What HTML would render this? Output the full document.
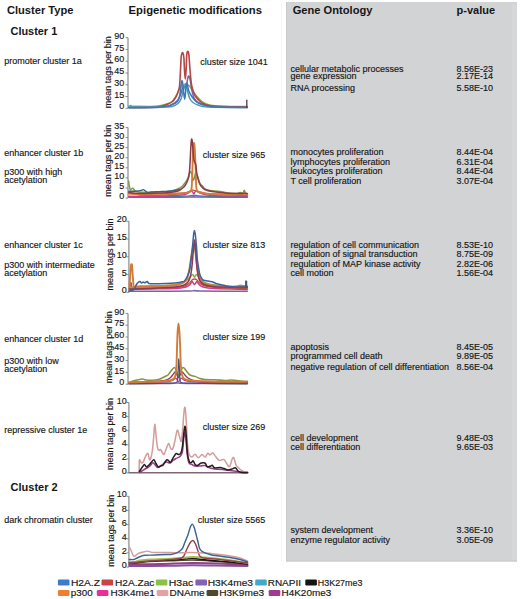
<!DOCTYPE html>
<html><head><meta charset="utf-8"><style>
html,body{margin:0;padding:0;background:#fff;width:520px;height:599px;overflow:hidden}
svg{display:block;font-family:"Liberation Sans",sans-serif}
</style></head><body>
<svg width="520" height="599" viewBox="0 0 520 599" font-family="Liberation Sans, sans-serif"><rect x="0" y="0" width="520" height="599" fill="#ffffff"/>
<rect x="286" y="2" width="231" height="559.5" fill="#d2d3d5"/>
<rect x="512" y="4" width="4.5" height="556" fill="#d6d7d9"/>
<line x1="281.5" y1="2" x2="281.5" y2="561" stroke="#f6f6f6" stroke-width="1"/>
<line x1="286.5" y1="2" x2="286.5" y2="561.5" stroke="#c9cacc" stroke-width="1"/>
<line x1="286" y1="561" x2="517" y2="561" stroke="#c9cacc" stroke-width="1"/>
<text x="6.9" y="13.5" font-size="11.00" font-weight="bold" textLength="66.6" lengthAdjust="spacingAndGlyphs" fill="#161616">Cluster Type</text>
<text x="128.6" y="13.5" font-size="11.20" font-weight="bold" textLength="133.4" lengthAdjust="spacingAndGlyphs" fill="#161616">Epigenetic modifications</text>
<text x="292.7" y="13.5" font-size="11.00" font-weight="bold" textLength="79.8" lengthAdjust="spacingAndGlyphs" fill="#161616">Gene Ontology</text>
<text x="456.6" y="13.5" font-size="11.00" font-weight="bold" textLength="38.4" lengthAdjust="spacingAndGlyphs" fill="#161616">p-value</text>
<text x="10.5" y="34.6" font-size="11.00" font-weight="bold" textLength="46.7" lengthAdjust="spacingAndGlyphs" fill="#161616">Cluster 1</text>
<text x="10.6" y="491.0" font-size="11.00" font-weight="bold" textLength="47.1" lengthAdjust="spacingAndGlyphs" fill="#161616">Cluster 2</text>
<text x="4.2" y="64.4" font-size="9.00" fill="#161616" stroke="#161616" stroke-width="0.15">promoter cluster 1a</text>
<text x="4.2" y="155.8" font-size="9.00" fill="#161616" stroke="#161616" stroke-width="0.15">enhancer cluster 1b</text>
<text x="4.2" y="175.2" font-size="9.00" fill="#161616" stroke="#161616" stroke-width="0.15">p300 with high</text>
<text x="4.2" y="183.3" font-size="9.00" fill="#161616" stroke="#161616" stroke-width="0.15">acetylation</text>
<text x="4.2" y="248.3" font-size="9.00" fill="#161616" stroke="#161616" stroke-width="0.15">enhancer cluster 1c</text>
<text x="4.2" y="267.5" font-size="9.00" fill="#161616" stroke="#161616" stroke-width="0.15">p300 with intermediate</text>
<text x="4.2" y="275.8" font-size="9.00" fill="#161616" stroke="#161616" stroke-width="0.15">acetylation</text>
<text x="4.2" y="341.9" font-size="9.00" fill="#161616" stroke="#161616" stroke-width="0.15">enhancer cluster 1d</text>
<text x="4.2" y="363.5" font-size="9.00" fill="#161616" stroke="#161616" stroke-width="0.15">p300 with low</text>
<text x="4.2" y="371.7" font-size="9.00" fill="#161616" stroke="#161616" stroke-width="0.15">acetylation</text>
<text x="4.2" y="433.3" font-size="9.00" fill="#161616" stroke="#161616" stroke-width="0.15">repressive cluster 1e</text>
<text x="4.2" y="522.7" font-size="9.00" fill="#161616" stroke="#161616" stroke-width="0.15">dark chromatin cluster</text>
<text x="200.2" y="65.4" font-size="9.00" fill="#161616" stroke="#161616" stroke-width="0.15">cluster size 1041</text>
<text x="202.8" y="158.0" font-size="9.00" fill="#161616" stroke="#161616" stroke-width="0.15">cluster size 965</text>
<text x="202.8" y="248.0" font-size="9.00" fill="#161616" stroke="#161616" stroke-width="0.15">cluster size 813</text>
<text x="202.8" y="339.7" font-size="9.00" fill="#161616" stroke="#161616" stroke-width="0.15">cluster size 199</text>
<text x="202.8" y="429.7" font-size="9.00" fill="#161616" stroke="#161616" stroke-width="0.15">cluster size 269</text>
<text x="197.8" y="522.8" font-size="9.00" fill="#161616" stroke="#161616" stroke-width="0.15">cluster size 5565</text>
<text x="290.5" y="71.7" font-size="9.00" fill="#161616" stroke="#161616" stroke-width="0.15">cellular metabolic processes</text>
<text x="456.4" y="71.7" font-size="9.00" fill="#161616" stroke="#161616" stroke-width="0.15">8.56E-23</text>
<text x="290.5" y="79.3" font-size="9.00" fill="#161616" stroke="#161616" stroke-width="0.15">gene expression</text>
<text x="456.4" y="79.3" font-size="9.00" fill="#161616" stroke="#161616" stroke-width="0.15">2.17E-14</text>
<text x="290.5" y="91.1" font-size="9.00" fill="#161616" stroke="#161616" stroke-width="0.15">RNA processing</text>
<text x="456.4" y="91.1" font-size="9.00" fill="#161616" stroke="#161616" stroke-width="0.15">5.58E-10</text>
<text x="290.5" y="155.0" font-size="9.00" fill="#161616" stroke="#161616" stroke-width="0.15">monocytes proliferation</text>
<text x="456.4" y="155.0" font-size="9.00" fill="#161616" stroke="#161616" stroke-width="0.15">8.44E-04</text>
<text x="290.5" y="164.5" font-size="9.00" fill="#161616" stroke="#161616" stroke-width="0.15">lymphocytes proliferation</text>
<text x="456.4" y="164.5" font-size="9.00" fill="#161616" stroke="#161616" stroke-width="0.15">6.31E-04</text>
<text x="290.5" y="174.2" font-size="9.00" fill="#161616" stroke="#161616" stroke-width="0.15">leukocytes proliferation</text>
<text x="456.4" y="174.2" font-size="9.00" fill="#161616" stroke="#161616" stroke-width="0.15">8.44E-04</text>
<text x="290.5" y="184.4" font-size="9.00" fill="#161616" stroke="#161616" stroke-width="0.15">T cell proliferation</text>
<text x="456.4" y="184.4" font-size="9.00" fill="#161616" stroke="#161616" stroke-width="0.15">3.07E-04</text>
<text x="290.5" y="247.7" font-size="9.00" fill="#161616" stroke="#161616" stroke-width="0.15">regulation of cell communication</text>
<text x="456.4" y="247.7" font-size="9.00" fill="#161616" stroke="#161616" stroke-width="0.15">8.53E-10</text>
<text x="290.5" y="257.0" font-size="9.00" fill="#161616" stroke="#161616" stroke-width="0.15">regulation of signal transduction</text>
<text x="456.4" y="257.0" font-size="9.00" fill="#161616" stroke="#161616" stroke-width="0.15">8.75E-09</text>
<text x="290.5" y="267.0" font-size="9.00" fill="#161616" stroke="#161616" stroke-width="0.15">regulation of MAP kinase activity</text>
<text x="456.4" y="267.0" font-size="9.00" fill="#161616" stroke="#161616" stroke-width="0.15">2.82E-06</text>
<text x="290.5" y="276.0" font-size="9.00" fill="#161616" stroke="#161616" stroke-width="0.15">cell motion</text>
<text x="456.4" y="276.0" font-size="9.00" fill="#161616" stroke="#161616" stroke-width="0.15">1.56E-04</text>
<text x="290.5" y="350.0" font-size="9.00" fill="#161616" stroke="#161616" stroke-width="0.15">apoptosis</text>
<text x="456.4" y="350.0" font-size="9.00" fill="#161616" stroke="#161616" stroke-width="0.15">8.45E-05</text>
<text x="290.5" y="358.5" font-size="9.00" fill="#161616" stroke="#161616" stroke-width="0.15">programmed cell death</text>
<text x="456.4" y="358.5" font-size="9.00" fill="#161616" stroke="#161616" stroke-width="0.15">9.89E-05</text>
<text x="290.5" y="369.5" font-size="9.00" fill="#161616" stroke="#161616" stroke-width="0.15">negative regulation of cell differentiation</text>
<text x="456.4" y="369.5" font-size="9.00" fill="#161616" stroke="#161616" stroke-width="0.15">8.56E-04</text>
<text x="290.5" y="441.2" font-size="9.00" fill="#161616" stroke="#161616" stroke-width="0.15">cell development</text>
<text x="456.4" y="441.2" font-size="9.00" fill="#161616" stroke="#161616" stroke-width="0.15">9.48E-03</text>
<text x="290.5" y="450.2" font-size="9.00" fill="#161616" stroke="#161616" stroke-width="0.15">cell differentiation</text>
<text x="456.4" y="450.2" font-size="9.00" fill="#161616" stroke="#161616" stroke-width="0.15">9.65E-03</text>
<text x="290.5" y="532.8" font-size="9.00" fill="#161616" stroke="#161616" stroke-width="0.15">system development</text>
<text x="456.4" y="532.8" font-size="9.00" fill="#161616" stroke="#161616" stroke-width="0.15">3.36E-10</text>
<text x="290.5" y="542.6" font-size="9.00" fill="#161616" stroke="#161616" stroke-width="0.15">enzyme regulator activity</text>
<text x="456.4" y="542.6" font-size="9.00" fill="#161616" stroke="#161616" stroke-width="0.15">3.05E-09</text>
<line x1="128.0" y1="37.7" x2="128.0" y2="108.3" stroke="#8a8a8a" stroke-width="1.2"/>
<line x1="125.6" y1="108.30" x2="128.0" y2="108.30" stroke="#8a8a8a" stroke-width="1"/>
<text x="124.2" y="109.4" font-size="9.00" text-anchor="end" fill="#161616" stroke="#161616" stroke-width="0.15">0</text>
<line x1="125.6" y1="96.53" x2="128.0" y2="96.53" stroke="#8a8a8a" stroke-width="1"/>
<text x="124.2" y="97.6" font-size="9.00" text-anchor="end" fill="#161616" stroke="#161616" stroke-width="0.15">15</text>
<line x1="125.6" y1="84.77" x2="128.0" y2="84.77" stroke="#8a8a8a" stroke-width="1"/>
<text x="124.2" y="85.9" font-size="9.00" text-anchor="end" fill="#161616" stroke="#161616" stroke-width="0.15">30</text>
<line x1="125.6" y1="73.00" x2="128.0" y2="73.00" stroke="#8a8a8a" stroke-width="1"/>
<text x="124.2" y="74.1" font-size="9.00" text-anchor="end" fill="#161616" stroke="#161616" stroke-width="0.15">45</text>
<line x1="125.6" y1="61.23" x2="128.0" y2="61.23" stroke="#8a8a8a" stroke-width="1"/>
<text x="124.2" y="62.3" font-size="9.00" text-anchor="end" fill="#161616" stroke="#161616" stroke-width="0.15">60</text>
<line x1="125.6" y1="49.47" x2="128.0" y2="49.47" stroke="#8a8a8a" stroke-width="1"/>
<text x="124.2" y="50.6" font-size="9.00" text-anchor="end" fill="#161616" stroke="#161616" stroke-width="0.15">75</text>
<line x1="125.6" y1="37.70" x2="128.0" y2="37.70" stroke="#8a8a8a" stroke-width="1"/>
<text x="124.2" y="38.8" font-size="9.00" text-anchor="end" fill="#161616" stroke="#161616" stroke-width="0.15">90</text>
<text transform="translate(111.0 72.3) rotate(-90)" font-size="9" text-anchor="middle" fill="#161616" stroke="#161616" stroke-width="0.15">mean tags per bin</text>
<line x1="128.0" y1="127.4" x2="128.0" y2="198.1" stroke="#8a8a8a" stroke-width="1.2"/>
<line x1="125.6" y1="198.10" x2="128.0" y2="198.10" stroke="#8a8a8a" stroke-width="1"/>
<text x="124.2" y="199.2" font-size="9.00" text-anchor="end" fill="#161616" stroke="#161616" stroke-width="0.15">0</text>
<line x1="125.6" y1="188.00" x2="128.0" y2="188.00" stroke="#8a8a8a" stroke-width="1"/>
<text x="124.2" y="189.1" font-size="9.00" text-anchor="end" fill="#161616" stroke="#161616" stroke-width="0.15">5</text>
<line x1="125.6" y1="177.90" x2="128.0" y2="177.90" stroke="#8a8a8a" stroke-width="1"/>
<text x="124.2" y="179.0" font-size="9.00" text-anchor="end" fill="#161616" stroke="#161616" stroke-width="0.15">10</text>
<line x1="125.6" y1="167.80" x2="128.0" y2="167.80" stroke="#8a8a8a" stroke-width="1"/>
<text x="124.2" y="168.9" font-size="9.00" text-anchor="end" fill="#161616" stroke="#161616" stroke-width="0.15">15</text>
<line x1="125.6" y1="157.70" x2="128.0" y2="157.70" stroke="#8a8a8a" stroke-width="1"/>
<text x="124.2" y="158.8" font-size="9.00" text-anchor="end" fill="#161616" stroke="#161616" stroke-width="0.15">20</text>
<line x1="125.6" y1="147.60" x2="128.0" y2="147.60" stroke="#8a8a8a" stroke-width="1"/>
<text x="124.2" y="148.7" font-size="9.00" text-anchor="end" fill="#161616" stroke="#161616" stroke-width="0.15">25</text>
<line x1="125.6" y1="137.50" x2="128.0" y2="137.50" stroke="#8a8a8a" stroke-width="1"/>
<text x="124.2" y="138.6" font-size="9.00" text-anchor="end" fill="#161616" stroke="#161616" stroke-width="0.15">30</text>
<line x1="125.6" y1="127.40" x2="128.0" y2="127.40" stroke="#8a8a8a" stroke-width="1"/>
<text x="124.2" y="128.5" font-size="9.00" text-anchor="end" fill="#161616" stroke="#161616" stroke-width="0.15">35</text>
<text transform="translate(111.0 160.8) rotate(-90)" font-size="9" text-anchor="middle" fill="#161616" stroke="#161616" stroke-width="0.15">mean tags per bin</text>
<line x1="128.9" y1="221.3" x2="128.9" y2="292.3" stroke="#8a8a8a" stroke-width="1.2"/>
<line x1="126.5" y1="292.30" x2="128.9" y2="292.30" stroke="#8a8a8a" stroke-width="1"/>
<text x="126.7" y="293.4" font-size="9.00" text-anchor="end" fill="#161616" stroke="#161616" stroke-width="0.15">0</text>
<line x1="126.5" y1="274.55" x2="128.9" y2="274.55" stroke="#8a8a8a" stroke-width="1"/>
<text x="126.7" y="275.7" font-size="9.00" text-anchor="end" fill="#161616" stroke="#161616" stroke-width="0.15">5</text>
<line x1="126.5" y1="256.80" x2="128.9" y2="256.80" stroke="#8a8a8a" stroke-width="1"/>
<text x="126.7" y="257.9" font-size="9.00" text-anchor="end" fill="#161616" stroke="#161616" stroke-width="0.15">10</text>
<line x1="126.5" y1="239.05" x2="128.9" y2="239.05" stroke="#8a8a8a" stroke-width="1"/>
<text x="126.7" y="240.2" font-size="9.00" text-anchor="end" fill="#161616" stroke="#161616" stroke-width="0.15">15</text>
<line x1="126.5" y1="221.30" x2="128.9" y2="221.30" stroke="#8a8a8a" stroke-width="1"/>
<text x="126.7" y="222.4" font-size="9.00" text-anchor="end" fill="#161616" stroke="#161616" stroke-width="0.15">20</text>
<text transform="translate(112.6 254.4) rotate(-90)" font-size="9" text-anchor="middle" fill="#161616" stroke="#161616" stroke-width="0.15">mean tags per bin</text>
<line x1="128.0" y1="313.4" x2="128.0" y2="384.2" stroke="#8a8a8a" stroke-width="1.2"/>
<line x1="125.6" y1="384.20" x2="128.0" y2="384.20" stroke="#8a8a8a" stroke-width="1"/>
<text x="124.2" y="385.3" font-size="9.00" text-anchor="end" fill="#161616" stroke="#161616" stroke-width="0.15">0</text>
<line x1="125.6" y1="372.40" x2="128.0" y2="372.40" stroke="#8a8a8a" stroke-width="1"/>
<text x="124.2" y="373.5" font-size="9.00" text-anchor="end" fill="#161616" stroke="#161616" stroke-width="0.15">15</text>
<line x1="125.6" y1="360.60" x2="128.0" y2="360.60" stroke="#8a8a8a" stroke-width="1"/>
<text x="124.2" y="361.7" font-size="9.00" text-anchor="end" fill="#161616" stroke="#161616" stroke-width="0.15">30</text>
<line x1="125.6" y1="348.80" x2="128.0" y2="348.80" stroke="#8a8a8a" stroke-width="1"/>
<text x="124.2" y="349.9" font-size="9.00" text-anchor="end" fill="#161616" stroke="#161616" stroke-width="0.15">45</text>
<line x1="125.6" y1="337.00" x2="128.0" y2="337.00" stroke="#8a8a8a" stroke-width="1"/>
<text x="124.2" y="338.1" font-size="9.00" text-anchor="end" fill="#161616" stroke="#161616" stroke-width="0.15">60</text>
<line x1="125.6" y1="325.20" x2="128.0" y2="325.20" stroke="#8a8a8a" stroke-width="1"/>
<text x="124.2" y="326.3" font-size="9.00" text-anchor="end" fill="#161616" stroke="#161616" stroke-width="0.15">75</text>
<line x1="125.6" y1="313.40" x2="128.0" y2="313.40" stroke="#8a8a8a" stroke-width="1"/>
<text x="124.2" y="314.5" font-size="9.00" text-anchor="end" fill="#161616" stroke="#161616" stroke-width="0.15">90</text>
<text transform="translate(111.9 347.2) rotate(-90)" font-size="9" text-anchor="middle" fill="#161616" stroke="#161616" stroke-width="0.15">mean tags per bin</text>
<line x1="128.9" y1="402.5" x2="128.9" y2="472.9" stroke="#8a8a8a" stroke-width="1.2"/>
<line x1="126.5" y1="472.90" x2="128.9" y2="472.90" stroke="#8a8a8a" stroke-width="1"/>
<text x="126.7" y="474.0" font-size="9.00" text-anchor="end" fill="#161616" stroke="#161616" stroke-width="0.15">0</text>
<line x1="126.5" y1="458.82" x2="128.9" y2="458.82" stroke="#8a8a8a" stroke-width="1"/>
<text x="126.7" y="459.9" font-size="9.00" text-anchor="end" fill="#161616" stroke="#161616" stroke-width="0.15">2</text>
<line x1="126.5" y1="444.74" x2="128.9" y2="444.74" stroke="#8a8a8a" stroke-width="1"/>
<text x="126.7" y="445.8" font-size="9.00" text-anchor="end" fill="#161616" stroke="#161616" stroke-width="0.15">4</text>
<line x1="126.5" y1="430.66" x2="128.9" y2="430.66" stroke="#8a8a8a" stroke-width="1"/>
<text x="126.7" y="431.8" font-size="9.00" text-anchor="end" fill="#161616" stroke="#161616" stroke-width="0.15">6</text>
<line x1="126.5" y1="416.58" x2="128.9" y2="416.58" stroke="#8a8a8a" stroke-width="1"/>
<text x="126.7" y="417.7" font-size="9.00" text-anchor="end" fill="#161616" stroke="#161616" stroke-width="0.15">8</text>
<line x1="126.5" y1="402.50" x2="128.9" y2="402.50" stroke="#8a8a8a" stroke-width="1"/>
<text x="126.7" y="403.6" font-size="9.00" text-anchor="end" fill="#161616" stroke="#161616" stroke-width="0.15">10</text>
<text transform="translate(113.3 434.0) rotate(-90)" font-size="9" text-anchor="middle" fill="#161616" stroke="#161616" stroke-width="0.15">mean tags per bin</text>
<line x1="128.9" y1="496.3" x2="128.9" y2="567.0" stroke="#8a8a8a" stroke-width="1.2"/>
<line x1="126.5" y1="567.00" x2="128.9" y2="567.00" stroke="#8a8a8a" stroke-width="1"/>
<text x="126.7" y="568.1" font-size="9.00" text-anchor="end" fill="#161616" stroke="#161616" stroke-width="0.15">0</text>
<line x1="126.5" y1="552.86" x2="128.9" y2="552.86" stroke="#8a8a8a" stroke-width="1"/>
<text x="126.7" y="554.0" font-size="9.00" text-anchor="end" fill="#161616" stroke="#161616" stroke-width="0.15">2</text>
<line x1="126.5" y1="538.72" x2="128.9" y2="538.72" stroke="#8a8a8a" stroke-width="1"/>
<text x="126.7" y="539.8" font-size="9.00" text-anchor="end" fill="#161616" stroke="#161616" stroke-width="0.15">4</text>
<line x1="126.5" y1="524.58" x2="128.9" y2="524.58" stroke="#8a8a8a" stroke-width="1"/>
<text x="126.7" y="525.7" font-size="9.00" text-anchor="end" fill="#161616" stroke="#161616" stroke-width="0.15">6</text>
<line x1="126.5" y1="510.44" x2="128.9" y2="510.44" stroke="#8a8a8a" stroke-width="1"/>
<text x="126.7" y="511.5" font-size="9.00" text-anchor="end" fill="#161616" stroke="#161616" stroke-width="0.15">8</text>
<line x1="126.5" y1="496.30" x2="128.9" y2="496.30" stroke="#8a8a8a" stroke-width="1"/>
<text x="126.7" y="497.4" font-size="9.00" text-anchor="end" fill="#161616" stroke="#161616" stroke-width="0.15">10</text>
<text transform="translate(113.5 530.8) rotate(-90)" font-size="9" text-anchor="middle" fill="#161616" stroke="#161616" stroke-width="0.15">mean tags per bin</text>
<rect x="57.9" y="579.6" width="11.6" height="5.9" rx="1.2" fill="#3d7cc9"/>
<text x="70.9" y="585.5" font-size="9.20" textLength="29.1" lengthAdjust="spacingAndGlyphs" fill="#161616" stroke="#161616" stroke-width="0.15">H2A.Z</text>
<rect x="101.5" y="579.6" width="11.6" height="5.9" rx="1.2" fill="#c84545"/>
<text x="115.0" y="585.5" font-size="9.20" textLength="39.4" lengthAdjust="spacingAndGlyphs" fill="#161616" stroke="#161616" stroke-width="0.15">H2A.Zac</text>
<rect x="155.8" y="579.6" width="11.6" height="5.9" rx="1.2" fill="#8dc045"/>
<text x="168.8" y="585.5" font-size="9.20" textLength="24.5" lengthAdjust="spacingAndGlyphs" fill="#161616" stroke="#161616" stroke-width="0.15">H3ac</text>
<rect x="195.4" y="579.6" width="11.6" height="5.9" rx="1.2" fill="#8262b8"/>
<text x="207.7" y="585.5" font-size="9.20" textLength="45.3" lengthAdjust="spacingAndGlyphs" fill="#161616" stroke="#161616" stroke-width="0.15">H3K4me3</text>
<rect x="255.2" y="579.6" width="11.6" height="5.9" rx="1.2" fill="#42a8c8"/>
<text x="267.7" y="585.5" font-size="9.20" textLength="33.3" lengthAdjust="spacingAndGlyphs" fill="#161616" stroke="#161616" stroke-width="0.15">RNAPII</text>
<rect x="305.3" y="579.6" width="11.6" height="5.9" rx="1.2" fill="#141414"/>
<text x="317.8" y="585.5" font-size="9.20" textLength="44.6" lengthAdjust="spacingAndGlyphs" fill="#161616" stroke="#161616" stroke-width="0.15">H3K27me3</text>
<rect x="57.9" y="590.1" width="11.6" height="5.9" rx="1.2" fill="#ec8030"/>
<text x="70.8" y="596.0" font-size="9.20" textLength="21.9" lengthAdjust="spacingAndGlyphs" fill="#161616" stroke="#161616" stroke-width="0.15">p300</text>
<rect x="96.8" y="590.1" width="11.6" height="5.9" rx="1.2" fill="#e8309a"/>
<text x="110.6" y="596.0" font-size="9.20" textLength="44.2" lengthAdjust="spacingAndGlyphs" fill="#161616" stroke="#161616" stroke-width="0.15">H3K4me1</text>
<rect x="156.7" y="590.1" width="11.6" height="5.9" rx="1.2" fill="#e6a2a2"/>
<text x="169.6" y="596.0" font-size="9.20" textLength="35.0" lengthAdjust="spacingAndGlyphs" fill="#161616" stroke="#161616" stroke-width="0.15">DNAme</text>
<rect x="206.6" y="590.1" width="11.6" height="5.9" rx="1.2" fill="#50482a"/>
<text x="219.2" y="596.0" font-size="9.20" textLength="45.0" lengthAdjust="spacingAndGlyphs" fill="#161616" stroke="#161616" stroke-width="0.15">H3K9me3</text>
<rect x="268.7" y="590.1" width="11.6" height="5.9" rx="1.2" fill="#a03c90"/>
<text x="281.5" y="596.0" font-size="9.20" textLength="49.8" lengthAdjust="spacingAndGlyphs" fill="#161616" stroke="#161616" stroke-width="0.15">H4K20me3</text>
<path d="M128.80 106.60C129.33 106.53 128.47 106.23 132.00 106.20C135.53 106.17 145.33 106.48 150.00 106.40C154.67 106.32 157.33 106.05 160.00 105.70C162.67 105.35 164.00 105.00 166.00 104.30C168.00 103.60 170.33 102.88 172.00 101.50C173.67 100.12 174.83 97.92 176.00 96.00C177.17 94.08 178.17 91.58 179.00 90.00C179.83 88.42 180.33 87.33 181.00 86.50C181.67 85.67 182.25 84.92 183.00 85.00C183.75 85.08 184.67 87.00 185.50 87.00C186.33 87.00 187.25 85.08 188.00 85.00C188.75 84.92 189.33 85.67 190.00 86.50C190.67 87.33 190.92 88.42 192.00 90.00C193.08 91.58 194.83 94.08 196.50 96.00C198.17 97.92 200.25 100.12 202.00 101.50C203.75 102.88 204.83 103.58 207.00 104.30C209.17 105.02 211.17 105.45 215.00 105.80C218.83 106.15 224.62 106.30 230.00 106.40C235.38 106.50 244.42 106.40 247.30 106.40" fill="none" stroke="#85af48" stroke-width="1.53" stroke-linejoin="round" stroke-linecap="round"/>
<path d="M128.80 107.30C134.83 107.18 157.80 107.07 165.00 106.60C172.20 106.13 170.00 105.43 172.00 104.50C174.00 103.57 175.67 102.42 177.00 101.00C178.33 99.58 179.17 97.83 180.00 96.00C180.83 94.17 181.42 91.58 182.00 90.00C182.58 88.42 183.00 86.83 183.50 86.50C184.00 86.17 184.50 88.25 185.00 88.00C185.50 87.75 186.03 86.67 186.50 85.00C186.97 83.33 187.42 79.50 187.80 78.00C188.18 76.50 188.43 75.83 188.80 76.00C189.17 76.17 189.60 77.33 190.00 79.00C190.40 80.67 190.78 83.67 191.20 86.00C191.62 88.33 191.95 90.83 192.50 93.00C193.05 95.17 193.58 97.42 194.50 99.00C195.42 100.58 196.25 101.50 198.00 102.50C199.75 103.50 202.17 104.32 205.00 105.00C207.83 105.68 207.95 106.27 215.00 106.60C222.05 106.93 241.92 106.93 247.30 107.00" fill="none" stroke="#7c61a9" stroke-width="1.53" stroke-linejoin="round" stroke-linecap="round"/>
<path d="M128.80 107.60C132.33 107.57 144.80 107.57 150.00 107.40C155.20 107.23 157.28 107.07 160.00 106.60C162.72 106.13 164.18 105.45 166.30 104.60C168.42 103.75 171.02 102.90 172.70 101.50C174.38 100.10 175.47 97.95 176.40 96.20C177.33 94.45 177.77 92.77 178.30 91.00C178.83 89.23 179.23 89.10 179.60 85.60C179.97 82.10 180.25 74.60 180.50 70.00C180.75 65.40 180.88 60.73 181.10 58.00C181.32 55.27 181.57 54.50 181.80 53.60C182.03 52.70 182.27 52.60 182.50 52.60C182.73 52.60 182.97 52.70 183.20 53.60C183.43 54.50 183.68 55.27 183.90 58.00C184.12 60.73 184.27 66.50 184.50 70.00C184.73 73.50 185.03 79.00 185.30 79.00C185.57 79.00 185.88 73.67 186.10 70.00C186.32 66.33 186.43 59.93 186.60 57.00C186.77 54.07 186.90 53.35 187.10 52.40C187.30 51.45 187.57 51.30 187.80 51.30C188.03 51.30 188.28 51.45 188.50 52.40C188.72 53.35 188.88 54.57 189.10 57.00C189.32 59.43 189.53 63.50 189.80 67.00C190.07 70.50 190.38 74.90 190.70 78.00C191.02 81.10 191.28 83.43 191.70 85.60C192.12 87.77 192.58 89.23 193.20 91.00C193.82 92.77 194.23 94.45 195.40 96.20C196.57 97.95 198.52 100.10 200.20 101.50C201.88 102.90 203.03 103.80 205.50 104.60C207.97 105.40 208.03 105.90 215.00 106.30C221.97 106.70 241.92 106.88 247.30 107.00" fill="none" stroke="#b44646" stroke-width="1.61" stroke-linejoin="round" stroke-linecap="round"/>
<path d="M128.80 106.50C129.13 106.35 130.10 105.55 130.80 105.60C131.50 105.65 128.13 106.57 133.00 106.80C137.87 107.03 153.50 107.07 160.00 107.00C166.50 106.93 169.00 106.98 172.00 106.40C175.00 105.82 176.50 104.73 178.00 103.50C179.50 102.27 180.17 100.92 181.00 99.00C181.83 97.08 182.45 94.08 183.00 92.00C183.55 89.92 183.90 87.92 184.30 86.50C184.70 85.08 185.02 83.50 185.40 83.50C185.78 83.50 186.17 84.92 186.60 86.50C187.03 88.08 187.43 90.92 188.00 93.00C188.57 95.08 189.17 97.42 190.00 99.00C190.83 100.58 191.67 101.50 193.00 102.50C194.33 103.50 195.50 104.25 198.00 105.00C200.50 105.75 199.78 106.57 208.00 107.00C216.22 107.43 240.75 107.50 247.30 107.60" fill="none" stroke="#479cb7" stroke-width="1.53" stroke-linejoin="round" stroke-linecap="round"/>
<path d="M128.80 107.80C134.00 107.72 152.87 107.80 160.00 107.30C167.13 106.80 168.68 105.77 171.60 104.80C174.52 103.83 176.18 102.88 177.50 101.50C178.82 100.12 179.00 98.42 179.50 96.50C180.00 94.58 180.22 92.08 180.50 90.00C180.78 87.92 180.95 85.57 181.20 84.00C181.45 82.43 181.73 80.60 182.00 80.60C182.27 80.60 182.53 82.10 182.80 84.00C183.07 85.90 183.28 89.45 183.60 92.00C183.92 94.55 184.37 99.30 184.70 99.30C185.03 99.30 185.37 94.22 185.60 92.00C185.83 89.78 185.90 87.47 186.10 86.00C186.30 84.53 186.55 83.28 186.80 83.20C187.05 83.12 187.27 84.20 187.60 85.50C187.93 86.80 188.12 89.22 188.80 91.00C189.48 92.78 190.50 94.45 191.70 96.20C192.90 97.95 194.28 100.12 196.00 101.50C197.72 102.88 199.33 103.62 202.00 104.50C204.67 105.38 204.45 106.28 212.00 106.80C219.55 107.32 241.42 107.47 247.30 107.60" fill="none" stroke="#4176b6" stroke-width="1.53" stroke-linejoin="round" stroke-linecap="round"/>
<path d="M246.8 107.5 L246.8 100.2" fill="none" stroke="#623f4c" stroke-width="1.36" stroke-linejoin="round" stroke-linecap="round"/>
<path d="M128.80 197.20C134.00 197.22 149.80 197.33 160.00 197.30C170.20 197.27 184.33 197.17 190.00 197.00C195.67 196.83 192.67 196.30 194.00 196.30C195.33 196.30 189.12 196.85 198.00 197.00C206.88 197.15 239.08 197.17 247.30 197.20" fill="none" stroke="#7c61a9" stroke-width="1.53" stroke-linejoin="round" stroke-linecap="round"/>
<path d="M128.80 196.50C134.00 196.52 150.63 196.65 160.00 196.60C169.37 196.55 179.33 196.43 185.00 196.20C190.67 195.97 191.00 195.20 194.00 195.20C197.00 195.20 194.12 195.97 203.00 196.20C211.88 196.43 239.92 196.53 247.30 196.60" fill="none" stroke="#4176b6" stroke-width="1.27" stroke-linejoin="round" stroke-linecap="round"/>
<path d="M128.80 196.50C132.33 196.47 142.30 196.47 150.00 196.30C157.70 196.13 169.17 195.80 175.00 195.50C180.83 195.20 182.67 195.00 185.00 194.50C187.33 194.00 188.00 193.12 189.00 192.50C190.00 191.88 190.40 190.88 191.00 190.80C191.60 190.72 192.13 191.52 192.60 192.00C193.07 192.48 193.40 193.70 193.80 193.70C194.20 193.70 194.53 192.48 195.00 192.00C195.47 191.52 195.93 190.70 196.60 190.80C197.27 190.90 197.60 191.97 199.00 192.60C200.40 193.23 202.33 194.10 205.00 194.60C207.67 195.10 207.95 195.37 215.00 195.60C222.05 195.83 241.92 195.93 247.30 196.00" fill="none" stroke="#d23891" stroke-width="1.36" stroke-linejoin="round" stroke-linecap="round"/>
<path d="M128.80 192.30C129.17 192.38 129.13 192.35 131.00 192.80C132.87 193.25 135.17 194.60 140.00 195.00C144.83 195.40 154.17 195.33 160.00 195.20C165.83 195.07 170.83 194.57 175.00 194.20C179.17 193.83 182.50 193.45 185.00 193.00C187.50 192.55 188.83 192.00 190.00 191.50C191.17 191.00 191.33 190.17 192.00 190.00C192.67 189.83 193.17 190.33 194.00 190.50C194.83 190.67 195.67 190.67 197.00 191.00C198.33 191.33 199.83 192.00 202.00 192.50C204.17 193.00 205.33 193.58 210.00 194.00C214.67 194.42 223.78 194.78 230.00 195.00C236.22 195.22 244.42 195.25 247.30 195.30" fill="none" stroke="#c95e3e" stroke-width="1.36" stroke-linejoin="round" stroke-linecap="round"/>
<path d="M128.60 181.00C128.72 181.83 129.02 184.53 129.30 186.00C129.58 187.47 129.72 189.43 130.30 189.80C130.88 190.17 132.02 188.03 132.80 188.20C133.58 188.37 133.80 190.13 135.00 190.80C136.20 191.47 137.50 191.97 140.00 192.20C142.50 192.43 146.67 192.27 150.00 192.20C153.33 192.13 157.00 191.90 160.00 191.80C163.00 191.70 165.50 191.90 168.00 191.60C170.50 191.30 173.00 190.60 175.00 190.00C177.00 189.40 178.77 188.67 180.00 188.00C181.23 187.33 181.57 186.83 182.40 186.00C183.23 185.17 184.15 184.17 185.00 183.00C185.85 181.83 186.80 180.50 187.50 179.00C188.20 177.50 188.68 175.25 189.20 174.00C189.72 172.75 190.17 171.50 190.60 171.50C191.03 171.50 191.47 172.92 191.80 174.00C192.13 175.08 192.32 176.95 192.60 178.00C192.88 179.05 193.18 180.38 193.50 180.30C193.82 180.22 194.22 178.47 194.50 177.50C194.78 176.53 194.98 175.30 195.20 174.50C195.42 173.70 195.53 172.62 195.80 172.70C196.07 172.78 196.43 174.12 196.80 175.00C197.17 175.88 197.43 176.52 198.00 178.00C198.57 179.48 199.37 182.48 200.20 183.90C201.03 185.32 202.20 185.65 203.00 186.50C203.80 187.35 203.83 188.32 205.00 189.00C206.17 189.68 207.50 190.18 210.00 190.60C212.50 191.02 216.67 191.07 220.00 191.50C223.33 191.93 227.17 192.87 230.00 193.20C232.83 193.53 235.33 193.62 237.00 193.50C238.67 193.38 239.00 192.58 240.00 192.50C241.00 192.42 242.30 193.38 243.00 193.00C243.70 192.62 243.78 190.20 244.20 190.20C244.62 190.20 244.98 192.37 245.50 193.00C246.02 193.63 247.00 193.83 247.30 194.00" fill="none" stroke="#7f9a4a" stroke-width="1.53" stroke-linejoin="round" stroke-linecap="round"/>
<path d="M128.80 191.20C129.50 191.22 131.80 191.30 133.00 191.30C134.20 191.30 134.75 191.32 136.00 191.20C137.25 191.08 139.30 190.87 140.50 190.60C141.70 190.33 142.37 189.53 143.20 189.60C144.03 189.67 144.70 190.47 145.50 191.00C146.30 191.53 147.08 192.65 148.00 192.80C148.92 192.95 149.67 192.07 151.00 191.90C152.33 191.73 154.17 191.88 156.00 191.80C157.83 191.72 160.00 191.48 162.00 191.40C164.00 191.32 165.83 191.45 168.00 191.30C170.17 191.15 173.17 190.80 175.00 190.50C176.83 190.20 178.33 189.67 179.00 189.50" fill="none" stroke="#3b6376" stroke-width="1.36" stroke-linejoin="round" stroke-linecap="round"/>
<path d="M128.80 193.60C130.67 193.70 133.13 194.20 140.00 194.20C146.87 194.20 162.50 193.80 170.00 193.60C177.50 193.40 181.83 193.27 185.00 193.00C188.17 192.73 188.00 192.42 189.00 192.00C190.00 191.58 190.53 191.50 191.00 190.50C191.47 189.50 191.57 189.42 191.80 186.00C192.03 182.58 192.22 175.17 192.40 170.00C192.58 164.83 192.72 159.17 192.90 155.00C193.08 150.83 193.32 147.02 193.50 145.00C193.68 142.98 193.82 142.73 194.00 142.90C194.18 143.07 194.40 143.48 194.60 146.00C194.80 148.52 195.00 153.67 195.20 158.00C195.40 162.33 195.63 167.33 195.80 172.00C195.97 176.67 196.00 182.92 196.20 186.00C196.40 189.08 196.37 189.42 197.00 190.50C197.63 191.58 197.83 191.92 200.00 192.50C202.17 193.08 203.33 193.70 210.00 194.00C216.67 194.30 234.33 194.47 240.00 194.30C245.67 194.13 242.78 192.97 244.00 193.00C245.22 193.03 246.75 194.25 247.30 194.50" fill="none" stroke="#d47a37" stroke-width="1.87" stroke-linejoin="round" stroke-linecap="round"/>
<path d="M128.80 192.50C130.67 192.67 134.80 193.42 140.00 193.50C145.20 193.58 155.00 193.17 160.00 193.00C165.00 192.83 167.00 192.83 170.00 192.50C173.00 192.17 176.00 191.67 178.00 191.00C180.00 190.33 180.88 189.33 182.00 188.50C183.12 187.67 183.87 187.08 184.70 186.00C185.53 184.92 186.32 183.53 187.00 182.00C187.68 180.47 188.37 178.80 188.80 176.80C189.23 174.80 189.37 172.80 189.60 170.00C189.83 167.20 190.00 163.67 190.20 160.00C190.40 156.33 190.58 151.43 190.80 148.00C191.02 144.57 191.25 140.48 191.50 139.40C191.75 138.32 192.05 139.73 192.30 141.50C192.55 143.27 192.72 146.92 193.00 150.00C193.28 153.08 193.53 157.50 194.00 160.00C194.47 162.50 195.37 163.00 195.80 165.00C196.23 167.00 196.30 170.03 196.60 172.00C196.90 173.97 197.20 175.13 197.60 176.80C198.00 178.47 198.43 180.47 199.00 182.00C199.57 183.53 200.00 184.75 201.00 186.00C202.00 187.25 203.17 188.58 205.00 189.50C206.83 190.42 208.67 190.92 212.00 191.50C215.33 192.08 220.33 192.67 225.00 193.00C229.67 193.33 236.28 193.42 240.00 193.50C243.72 193.58 246.08 193.50 247.30 193.50" fill="none" stroke="#8b3b46" stroke-width="1.53" stroke-linejoin="round" stroke-linecap="round"/>
<path d="M129.50 291.30C134.58 291.30 149.92 291.35 160.00 291.30C170.08 291.25 184.17 291.13 190.00 291.00C195.83 290.87 193.33 290.50 195.00 290.50C196.67 290.50 191.28 290.87 200.00 291.00C208.72 291.13 239.42 291.25 247.30 291.30" fill="none" stroke="#7c61a9" stroke-width="1.53" stroke-linejoin="round" stroke-linecap="round"/>
<path d="M129.50 289.50C132.92 289.42 142.42 289.17 150.00 289.00C157.58 288.83 169.00 288.83 175.00 288.50C181.00 288.17 183.50 287.67 186.00 287.00C188.50 286.33 189.00 285.42 190.00 284.50C191.00 283.58 191.47 281.75 192.00 281.50C192.53 281.25 192.78 282.48 193.20 283.00C193.62 283.52 194.07 284.60 194.50 284.60C194.93 284.60 195.38 283.52 195.80 283.00C196.22 282.48 196.47 281.25 197.00 281.50C197.53 281.75 198.00 283.58 199.00 284.50C200.00 285.42 200.33 286.33 203.00 287.00C205.67 287.67 207.62 288.08 215.00 288.50C222.38 288.92 241.92 289.33 247.30 289.50" fill="none" stroke="#d23891" stroke-width="1.44" stroke-linejoin="round" stroke-linecap="round"/>
<path d="M129.50 290.00C129.67 289.00 130.22 285.17 130.50 284.00C130.78 282.83 130.95 282.33 131.20 283.00C131.45 283.67 131.53 287.13 132.00 288.00C132.47 288.87 131.00 288.20 134.00 288.20C137.00 288.20 143.17 288.12 150.00 288.00C156.83 287.88 169.17 287.83 175.00 287.50C180.83 287.17 182.67 286.67 185.00 286.00C187.33 285.33 187.83 284.50 189.00 283.50C190.17 282.50 191.08 280.75 192.00 280.00C192.92 279.25 193.67 279.00 194.50 279.00C195.33 279.00 196.08 279.25 197.00 280.00C197.92 280.75 198.67 282.50 200.00 283.50C201.33 284.50 201.67 285.28 205.00 286.00C208.33 286.72 212.95 287.42 220.00 287.80C227.05 288.18 242.75 288.22 247.30 288.30" fill="none" stroke="#c9503e" stroke-width="1.36" stroke-linejoin="round" stroke-linecap="round"/>
<path d="M129.50 288.00C131.25 287.67 134.92 286.38 140.00 286.00C145.08 285.62 154.17 285.90 160.00 285.70C165.83 285.50 171.17 285.33 175.00 284.80C178.83 284.27 181.00 283.30 183.00 282.50C185.00 281.70 185.83 280.92 187.00 280.00C188.17 279.08 189.05 277.93 190.00 277.00C190.95 276.07 191.95 274.35 192.70 274.40C193.45 274.45 193.88 277.30 194.50 277.30C195.12 277.30 195.65 274.45 196.40 274.40C197.15 274.35 198.07 275.98 199.00 277.00C199.93 278.02 200.83 279.50 202.00 280.50C203.17 281.50 203.83 282.25 206.00 283.00C208.17 283.75 211.00 284.47 215.00 285.00C219.00 285.53 224.62 285.95 230.00 286.20C235.38 286.45 244.42 286.45 247.30 286.50" fill="none" stroke="#85af48" stroke-width="1.53" stroke-linejoin="round" stroke-linecap="round"/>
<path d="M129.20 290.00C129.37 287.67 129.92 280.00 130.20 276.00C130.48 272.00 130.68 267.95 130.90 266.00C131.12 264.05 131.30 264.30 131.50 264.30C131.70 264.30 131.88 264.05 132.10 266.00C132.32 267.95 132.52 272.57 132.80 276.00C133.08 279.43 133.27 284.77 133.80 286.60C134.33 288.43 131.63 287.03 136.00 287.00C140.37 286.97 153.50 286.68 160.00 286.40C166.50 286.12 171.33 285.78 175.00 285.30C178.67 284.82 180.25 284.22 182.00 283.50C183.75 282.78 184.58 282.08 185.50 281.00C186.42 279.92 186.92 278.67 187.50 277.00C188.08 275.33 188.50 273.50 189.00 271.00C189.50 268.50 190.00 265.17 190.50 262.00C191.00 258.83 191.50 254.85 192.00 252.00C192.50 249.15 192.97 245.07 193.50 244.90C194.03 244.73 194.68 248.15 195.20 251.00C195.72 253.85 196.17 258.67 196.60 262.00C197.03 265.33 197.32 268.50 197.80 271.00C198.28 273.50 198.80 275.25 199.50 277.00C200.20 278.75 200.92 280.25 202.00 281.50C203.08 282.75 203.83 283.75 206.00 284.50C208.17 285.25 211.00 285.58 215.00 286.00C219.00 286.42 226.33 286.95 230.00 287.00C233.67 287.05 235.33 286.55 237.00 286.30C238.67 286.05 238.83 285.55 240.00 285.50C241.17 285.45 242.78 285.83 244.00 286.00C245.22 286.17 246.75 286.42 247.30 286.50" fill="none" stroke="#d47a37" stroke-width="1.87" stroke-linejoin="round" stroke-linecap="round"/>
<path d="M129.50 289.00C132.92 288.92 142.42 288.83 150.00 288.50C157.58 288.17 169.33 287.58 175.00 287.00C180.67 286.42 181.83 285.83 184.00 285.00C186.17 284.17 186.92 283.50 188.00 282.00C189.08 280.50 189.83 278.67 190.50 276.00C191.17 273.33 191.55 270.00 192.00 266.00C192.45 262.00 192.78 256.33 193.20 252.00C193.62 247.67 194.08 240.33 194.50 240.00C194.92 239.67 195.35 246.00 195.70 250.00C196.05 254.00 196.22 259.83 196.60 264.00C196.98 268.17 197.43 272.17 198.00 275.00C198.57 277.83 199.00 279.42 200.00 281.00C201.00 282.58 201.50 283.53 204.00 284.50C206.50 285.47 207.78 286.30 215.00 286.80C222.22 287.30 241.92 287.38 247.30 287.50" fill="none" stroke="#8c3b56" stroke-width="1.53" stroke-linejoin="round" stroke-linecap="round"/>
<path d="M129.20 291.50C129.50 291.33 130.20 290.83 131.00 290.50C131.80 290.17 133.13 290.42 134.00 289.50C134.87 288.58 135.53 286.17 136.20 285.00C136.87 283.83 137.37 283.07 138.00 282.50C138.63 281.93 139.40 281.52 140.00 281.60C140.60 281.68 141.05 282.93 141.60 283.00C142.15 283.07 142.73 282.03 143.30 282.00C143.87 281.97 144.35 282.90 145.00 282.80C145.65 282.70 146.53 281.28 147.20 281.40C147.87 281.52 147.70 283.12 149.00 283.50C150.30 283.88 152.33 283.70 155.00 283.70C157.67 283.70 161.67 283.62 165.00 283.50C168.33 283.38 172.33 283.25 175.00 283.00C177.67 282.75 179.42 282.33 181.00 282.00C182.58 281.67 183.33 282.17 184.50 281.00C185.67 279.83 187.08 277.17 188.00 275.00C188.92 272.83 189.50 270.50 190.00 268.00C190.50 265.50 190.63 263.00 191.00 260.00C191.37 257.00 191.85 253.33 192.20 250.00C192.55 246.67 192.83 242.83 193.10 240.00C193.37 237.17 193.58 234.60 193.80 233.00C194.02 231.40 194.18 230.40 194.40 230.40C194.62 230.40 194.85 231.40 195.10 233.00C195.35 234.60 195.63 237.17 195.90 240.00C196.17 242.83 196.45 246.67 196.70 250.00C196.95 253.33 197.08 257.00 197.40 260.00C197.72 263.00 198.17 265.50 198.60 268.00C199.03 270.50 199.35 273.08 200.00 275.00C200.65 276.92 201.67 278.60 202.50 279.50C203.33 280.40 203.42 280.03 205.00 280.40C206.58 280.77 210.17 281.20 212.00 281.70C213.83 282.20 213.83 282.75 216.00 283.40C218.17 284.05 222.33 285.03 225.00 285.60C227.67 286.17 229.50 286.57 232.00 286.80C234.50 287.03 237.45 286.97 240.00 287.00C242.55 287.03 246.08 287.00 247.30 287.00" fill="none" stroke="#3d639f" stroke-width="1.53" stroke-linejoin="round" stroke-linecap="round"/>
<path d="M245.7 287 L245.7 281.2 L246.6 281.2 L246.6 287" fill="none" stroke="#48566f" stroke-width="1.27" stroke-linejoin="round" stroke-linecap="round"/>
<path d="M128.80 383.60C135.67 383.57 161.72 383.50 170.00 383.40C178.28 383.30 175.67 383.00 178.50 383.00C181.33 383.00 175.53 383.32 187.00 383.40C198.47 383.48 237.25 383.48 247.30 383.50" fill="none" stroke="#7c61a9" stroke-width="1.53" stroke-linejoin="round" stroke-linecap="round"/>
<path d="M128.80 383.00C132.33 382.92 143.47 382.75 150.00 382.50C156.53 382.25 164.17 381.92 168.00 381.50C171.83 381.08 171.67 380.55 173.00 380.00C174.33 379.45 175.08 377.90 176.00 378.20C176.92 378.50 177.67 381.80 178.50 381.80C179.33 381.80 180.08 378.50 181.00 378.20C181.92 377.90 182.50 379.45 184.00 380.00C185.50 380.55 185.67 381.08 190.00 381.50C194.33 381.92 200.45 382.25 210.00 382.50C219.55 382.75 241.08 382.92 247.30 383.00" fill="none" stroke="#d23891" stroke-width="1.36" stroke-linejoin="round" stroke-linecap="round"/>
<path d="M128.80 383.00C129.83 382.83 131.47 382.20 135.00 382.00C138.53 381.80 145.00 382.05 150.00 381.80C155.00 381.55 161.67 381.13 165.00 380.50C168.33 379.87 168.67 379.00 170.00 378.00C171.33 377.00 172.17 375.50 173.00 374.50C173.83 373.50 174.42 372.08 175.00 372.00C175.58 371.92 175.92 373.08 176.50 374.00C177.08 374.92 177.83 377.50 178.50 377.50C179.17 377.50 179.87 374.92 180.50 374.00C181.13 373.08 181.63 371.92 182.30 372.00C182.97 372.08 183.55 373.50 184.50 374.50C185.45 375.50 186.25 376.95 188.00 378.00C189.75 379.05 191.33 380.13 195.00 380.80C198.67 381.47 201.28 381.75 210.00 382.00C218.72 382.25 241.08 382.25 247.30 382.30" fill="none" stroke="#913b4e" stroke-width="1.36" stroke-linejoin="round" stroke-linecap="round"/>
<path d="M128.80 382.50C129.50 382.25 131.63 381.42 133.00 381.00C134.37 380.58 135.42 380.33 137.00 380.00C138.58 379.67 141.00 379.00 142.50 379.00C144.00 379.00 143.92 379.83 146.00 380.00C148.08 380.17 152.67 380.17 155.00 380.00C157.33 379.83 158.67 379.42 160.00 379.00C161.33 378.58 162.00 378.00 163.00 377.50C164.00 377.00 165.17 376.42 166.00 376.00C166.83 375.58 167.17 375.83 168.00 375.00C168.83 374.17 169.93 372.27 171.00 371.00C172.07 369.73 173.48 367.40 174.40 367.40C175.32 367.40 175.82 369.47 176.50 371.00C177.18 372.53 177.83 376.60 178.50 376.60C179.17 376.60 179.72 372.53 180.50 371.00C181.28 369.47 182.28 367.48 183.20 367.40C184.12 367.32 184.87 369.23 186.00 370.50C187.13 371.77 188.50 374.02 190.00 375.00C191.50 375.98 193.33 375.82 195.00 376.40C196.67 376.98 198.33 377.98 200.00 378.50C201.67 379.02 202.50 379.28 205.00 379.50C207.50 379.72 211.67 379.63 215.00 379.80C218.33 379.97 222.17 380.47 225.00 380.50C227.83 380.53 229.50 379.92 232.00 380.00C234.50 380.08 237.45 380.75 240.00 381.00C242.55 381.25 246.08 381.42 247.30 381.50" fill="none" stroke="#869343" stroke-width="1.53" stroke-linejoin="round" stroke-linecap="round"/>
<path d="M128.80 383.80C135.67 383.70 162.13 383.42 170.00 383.20C177.87 382.98 174.73 383.03 176.00 382.50C177.27 381.97 177.22 382.75 177.60 380.00C177.98 377.25 178.10 369.58 178.30 366.00C178.50 362.42 178.63 358.50 178.80 358.50C178.97 358.50 179.10 362.42 179.30 366.00C179.50 369.58 179.62 377.25 180.00 380.00C180.38 382.75 179.93 381.97 181.60 382.50C183.27 383.03 179.05 382.98 190.00 383.20C200.95 383.42 237.75 383.70 247.30 383.80" fill="none" stroke="#3b5683" stroke-width="1.19" stroke-linejoin="round" stroke-linecap="round"/>
<path d="M128.80 382.50C130.67 382.42 134.80 382.17 140.00 382.00C145.20 381.83 155.00 381.75 160.00 381.50C165.00 381.25 167.67 381.00 170.00 380.50C172.33 380.00 173.08 379.45 174.00 378.50C174.92 377.55 175.08 377.05 175.50 374.80C175.92 372.55 176.23 369.97 176.50 365.00C176.77 360.03 176.92 350.50 177.10 345.00C177.28 339.50 177.37 335.58 177.60 332.00C177.83 328.42 178.20 323.50 178.50 323.50C178.80 323.50 179.13 328.42 179.40 332.00C179.67 335.58 179.87 339.50 180.10 345.00C180.33 350.50 180.48 360.03 180.80 365.00C181.12 369.97 181.47 372.55 182.00 374.80C182.53 377.05 182.67 377.55 184.00 378.50C185.33 379.45 185.67 380.00 190.00 380.50C194.33 381.00 201.67 381.28 210.00 381.50C218.33 381.72 233.78 381.80 240.00 381.80C246.22 381.80 246.08 381.55 247.30 381.50" fill="none" stroke="#d47a37" stroke-width="1.87" stroke-linejoin="round" stroke-linecap="round"/>
<path d="M129.20 472.80C148.97 472.80 228.03 472.80 247.80 472.80" fill="none" stroke="#816679" stroke-width="1.36" stroke-linejoin="round" stroke-linecap="round"/>
<path d="M139.30 472.50C139.32 470.45 139.07 461.82 139.40 460.20C139.73 458.58 140.65 462.53 141.30 462.80C141.95 463.07 142.60 462.85 143.30 461.80C144.00 460.75 144.73 457.92 145.50 456.50C146.27 455.08 147.23 452.80 147.90 453.30C148.57 453.80 149.02 458.72 149.50 459.50C149.98 460.28 150.33 459.42 150.80 458.00C151.27 456.58 151.83 454.33 152.30 451.00C152.77 447.67 153.18 442.43 153.60 438.00C154.02 433.57 154.38 424.73 154.80 424.40C155.22 424.07 155.65 432.15 156.10 436.00C156.55 439.85 157.02 445.08 157.50 447.50C157.98 449.92 158.48 450.17 159.00 450.50C159.52 450.83 160.05 449.17 160.60 449.50C161.15 449.83 161.73 451.68 162.30 452.50C162.87 453.32 163.35 454.98 164.00 454.40C164.65 453.82 165.42 450.82 166.20 449.00C166.98 447.18 167.95 443.58 168.70 443.50C169.45 443.42 170.00 447.63 170.70 448.50C171.40 449.37 172.17 450.12 172.90 448.70C173.63 447.28 174.37 443.08 175.10 440.00C175.83 436.92 176.58 430.87 177.30 430.20C178.02 429.53 178.73 434.17 179.40 436.00C180.07 437.83 180.73 442.53 181.30 441.20C181.87 439.87 182.37 432.70 182.80 428.00C183.23 423.30 183.53 416.43 183.90 413.00C184.27 409.57 184.62 406.23 185.00 407.40C185.38 408.57 185.78 413.83 186.20 420.00C186.62 426.17 187.00 438.63 187.50 444.40C188.00 450.17 188.45 452.50 189.20 454.60C189.95 456.70 191.03 457.07 192.00 457.00C192.97 456.93 193.95 454.08 195.00 454.20C196.05 454.32 197.13 457.63 198.30 457.70C199.47 457.77 200.88 454.72 202.00 454.60C203.12 454.48 204.03 457.22 205.00 457.00C205.97 456.78 206.97 453.63 207.80 453.30C208.63 452.97 209.18 455.03 210.00 455.00C210.82 454.97 211.70 452.77 212.70 453.10C213.70 453.43 214.92 455.78 216.00 457.00C217.08 458.22 218.03 459.98 219.20 460.40C220.37 460.82 222.12 459.57 223.00 459.50C223.88 459.43 223.83 459.25 224.50 460.00C225.17 460.75 226.15 462.92 227.00 464.00C227.85 465.08 228.77 467.25 229.60 466.50C230.43 465.75 231.30 460.97 232.00 459.50C232.70 458.03 233.13 456.78 233.80 457.70C234.47 458.62 235.30 463.42 236.00 465.00C236.70 466.58 237.17 466.37 238.00 467.20C238.83 468.03 240.00 469.20 241.00 470.00C242.00 470.80 242.92 471.57 244.00 472.00C245.08 472.43 246.92 472.50 247.50 472.60" fill="none" stroke="#d59c9c" stroke-width="1.53" stroke-linejoin="round" stroke-linecap="round"/>
<path d="M139.30 472.50C139.75 472.25 141.05 471.58 142.00 471.00C142.95 470.42 144.00 469.58 145.00 469.00C146.00 468.42 147.17 468.00 148.00 467.50C148.83 467.00 149.17 466.78 150.00 466.00C150.83 465.22 152.00 462.80 153.00 462.80C154.00 462.80 155.17 465.22 156.00 466.00C156.83 466.78 157.00 467.67 158.00 467.50C159.00 467.33 160.67 465.92 162.00 465.00C163.33 464.08 164.67 462.33 166.00 462.00C167.33 461.67 168.83 463.25 170.00 463.00C171.17 462.75 172.00 461.25 173.00 460.50C174.00 459.75 174.83 459.17 176.00 458.50C177.17 457.83 178.95 457.58 180.00 456.50C181.05 455.42 181.70 454.75 182.30 452.00C182.90 449.25 183.18 443.38 183.60 440.00C184.02 436.62 184.40 431.70 184.80 431.70C185.20 431.70 185.58 436.12 186.00 440.00C186.42 443.88 186.80 451.17 187.30 455.00C187.80 458.83 188.22 461.42 189.00 463.00C189.78 464.58 191.00 464.00 192.00 464.50C193.00 465.00 193.67 465.75 195.00 466.00C196.33 466.25 198.33 466.08 200.00 466.00C201.67 465.92 203.33 465.17 205.00 465.50C206.67 465.83 208.33 467.42 210.00 468.00C211.67 468.58 213.00 468.75 215.00 469.00C217.00 469.25 219.50 469.25 222.00 469.50C224.50 469.75 227.00 470.08 230.00 470.50C233.00 470.92 237.08 471.67 240.00 472.00C242.92 472.33 246.25 472.42 247.50 472.50" fill="none" stroke="#933f86" stroke-width="1.53" stroke-linejoin="round" stroke-linecap="round"/>
<path d="M139.30 471.50C139.58 471.08 140.42 469.83 141.00 469.00C141.58 468.17 142.23 467.25 142.80 466.50C143.37 465.75 143.78 464.42 144.40 464.50C145.02 464.58 145.73 466.92 146.50 467.00C147.27 467.08 148.17 465.83 149.00 465.00C149.83 464.17 150.68 462.87 151.50 462.00C152.32 461.13 153.15 459.55 153.90 459.80C154.65 460.05 155.27 462.28 156.00 463.50C156.73 464.72 157.55 466.68 158.30 467.10C159.05 467.52 159.72 466.30 160.50 466.00C161.28 465.70 162.25 465.97 163.00 465.30C163.75 464.63 164.35 462.92 165.00 462.00C165.65 461.08 166.32 460.05 166.90 459.80C167.48 459.55 167.95 460.05 168.50 460.50C169.05 460.95 169.62 462.58 170.20 462.50C170.78 462.42 171.45 460.88 172.00 460.00C172.55 459.12 172.80 458.28 173.50 457.20C174.20 456.12 175.32 453.93 176.20 453.50C177.08 453.07 178.00 454.72 178.80 454.60C179.60 454.48 180.38 454.23 181.00 452.80C181.62 451.37 182.07 448.97 182.50 446.00C182.93 443.03 183.20 438.30 183.60 435.00C184.00 431.70 184.48 426.37 184.90 426.20C185.32 426.03 185.68 429.53 186.10 434.00C186.52 438.47 186.85 448.37 187.40 453.00C187.95 457.63 188.75 460.20 189.40 461.80C190.05 463.40 190.67 462.75 191.30 462.60C191.93 462.45 192.53 460.53 193.20 460.90C193.87 461.27 194.50 464.07 195.30 464.80C196.10 465.53 197.13 465.57 198.00 465.30C198.87 465.03 199.60 463.62 200.50 463.20C201.40 462.78 202.57 462.75 203.40 462.80C204.23 462.85 204.87 462.83 205.50 463.50C206.13 464.17 206.45 466.33 207.20 466.80C207.95 467.27 209.15 466.55 210.00 466.30C210.85 466.05 211.55 465.05 212.30 465.30C213.05 465.55 213.22 467.42 214.50 467.80C215.78 468.18 218.42 467.48 220.00 467.60C221.58 467.72 222.67 468.10 224.00 468.50C225.33 468.90 226.67 469.92 228.00 470.00C229.33 470.08 230.77 469.38 232.00 469.00C233.23 468.62 234.40 467.37 235.40 467.70C236.40 468.03 237.07 470.20 238.00 471.00C238.93 471.80 239.42 472.23 241.00 472.50C242.58 472.77 246.42 472.58 247.50 472.60" fill="none" stroke="#271d1e" stroke-width="1.53" stroke-linejoin="round" stroke-linecap="round"/>
<path d="M129.30 566.00C136.08 565.97 159.55 565.92 170.00 565.80C180.45 565.68 184.50 565.33 192.00 565.30C199.50 565.27 205.75 565.48 215.00 565.60C224.25 565.72 242.08 565.93 247.50 566.00" fill="none" stroke="#8251a2" stroke-width="2.04" stroke-linejoin="round" stroke-linecap="round"/>
<path d="M129.30 564.30C134.42 564.25 149.55 564.22 160.00 564.00C170.45 563.78 182.00 563.08 192.00 563.00C202.00 562.92 210.75 563.17 220.00 563.50C229.25 563.83 242.92 564.75 247.50 565.00" fill="none" stroke="#933f86" stroke-width="1.87" stroke-linejoin="round" stroke-linecap="round"/>
<path d="M129.30 562.60C130.42 562.67 132.55 563.18 136.00 563.00C139.45 562.82 144.33 561.87 150.00 561.50C155.67 561.13 163.00 561.05 170.00 560.80C177.00 560.55 185.33 559.97 192.00 560.00C198.67 560.03 203.67 560.58 210.00 561.00C216.33 561.42 223.75 562.00 230.00 562.50C236.25 563.00 244.58 563.75 247.50 564.00" fill="none" stroke="#4a432a" stroke-width="1.36" stroke-linejoin="round" stroke-linecap="round"/>
<path d="M129.30 562.50C130.42 562.50 132.55 562.75 136.00 562.50C139.45 562.25 144.33 561.42 150.00 561.00C155.67 560.58 164.17 560.33 170.00 560.00C175.83 559.67 181.33 559.28 185.00 559.00C188.67 558.72 189.50 558.27 192.00 558.30C194.50 558.33 196.17 558.78 200.00 559.20C203.83 559.62 210.00 560.33 215.00 560.80C220.00 561.27 224.58 561.47 230.00 562.00C235.42 562.53 244.58 563.67 247.50 564.00" fill="none" stroke="#181818" stroke-width="1.36" stroke-linejoin="round" stroke-linecap="round"/>
<path d="M129.30 561.50C130.08 561.58 132.22 562.17 134.00 562.00C135.78 561.83 137.33 560.92 140.00 560.50C142.67 560.08 145.67 559.75 150.00 559.50C154.33 559.25 161.00 559.25 166.00 559.00C171.00 558.75 175.67 558.33 180.00 558.00C184.33 557.67 187.83 557.08 192.00 557.00C196.17 556.92 200.33 557.17 205.00 557.50C209.67 557.83 215.00 558.42 220.00 559.00C225.00 559.58 230.42 560.33 235.00 561.00C239.58 561.67 245.42 562.67 247.50 563.00" fill="none" stroke="#a8bc54" stroke-width="1.87" stroke-linejoin="round" stroke-linecap="round"/>
<path d="M129.30 563.00C132.75 562.67 143.22 561.58 150.00 561.00C156.78 560.42 165.00 559.92 170.00 559.50C175.00 559.08 177.72 559.05 180.00 558.50C182.28 557.95 182.62 557.62 183.70 556.20C184.78 554.78 185.45 552.20 186.50 550.00C187.55 547.80 188.93 544.58 190.00 543.00C191.07 541.42 191.98 540.33 192.90 540.50C193.82 540.67 194.65 542.25 195.50 544.00C196.35 545.75 197.27 548.97 198.00 551.00C198.73 553.03 198.73 554.98 199.90 556.20C201.07 557.42 201.65 557.75 205.00 558.30C208.35 558.85 212.92 558.72 220.00 559.50C227.08 560.28 242.92 562.42 247.50 563.00" fill="none" stroke="#91444e" stroke-width="1.44" stroke-linejoin="round" stroke-linecap="round"/>
<path d="M129.30 546.80C129.67 547.58 130.72 549.93 131.50 551.50C132.28 553.07 132.92 555.85 134.00 556.20C135.08 556.55 136.65 554.25 138.00 553.60C139.35 552.95 140.50 552.72 142.10 552.30C143.70 551.88 145.95 551.08 147.60 551.10C149.25 551.12 149.93 552.17 152.00 552.40C154.07 552.63 157.00 552.48 160.00 552.50C163.00 552.52 166.67 552.45 170.00 552.50C173.33 552.55 176.33 552.80 180.00 552.80C183.67 552.80 187.83 552.47 192.00 552.50C196.17 552.53 201.17 552.75 205.00 553.00C208.83 553.25 210.83 553.50 215.00 554.00C219.17 554.50 225.83 555.33 230.00 556.00C234.17 556.67 237.08 557.17 240.00 558.00C242.92 558.83 246.25 560.50 247.50 561.00" fill="none" stroke="#d59c9c" stroke-width="1.44" stroke-linejoin="round" stroke-linecap="round"/>
<path d="M129.30 559.50C130.08 559.50 132.72 559.75 134.00 559.50C135.28 559.25 135.80 558.55 137.00 558.00C138.20 557.45 139.87 556.65 141.20 556.20C142.53 555.75 142.70 555.50 145.00 555.30C147.30 555.10 151.50 555.13 155.00 555.00C158.50 554.87 163.17 554.63 166.00 554.50C168.83 554.37 170.20 554.47 172.00 554.20C173.80 553.93 175.38 553.52 176.80 552.90C178.22 552.28 179.50 551.33 180.50 550.50C181.50 549.67 182.05 549.32 182.80 547.90C183.55 546.48 184.15 544.17 185.00 542.00C185.85 539.83 187.03 537.32 187.90 534.90C188.77 532.48 189.48 529.30 190.20 527.50C190.92 525.70 191.53 524.10 192.20 524.10C192.87 524.10 193.53 525.70 194.20 527.50C194.87 529.30 195.57 532.48 196.20 534.90C196.83 537.32 197.47 539.83 198.00 542.00C198.53 544.17 198.82 546.40 199.40 547.90C199.98 549.40 200.58 550.17 201.50 551.00C202.42 551.83 203.48 552.32 204.90 552.90C206.32 553.48 208.32 554.07 210.00 554.50C211.68 554.93 211.67 555.00 215.00 555.50C218.33 556.00 225.83 556.83 230.00 557.50C234.17 558.17 237.08 558.75 240.00 559.50C242.92 560.25 246.25 561.58 247.50 562.00" fill="none" stroke="#3c6492" stroke-width="1.44" stroke-linejoin="round" stroke-linecap="round"/></svg>
</body></html>
